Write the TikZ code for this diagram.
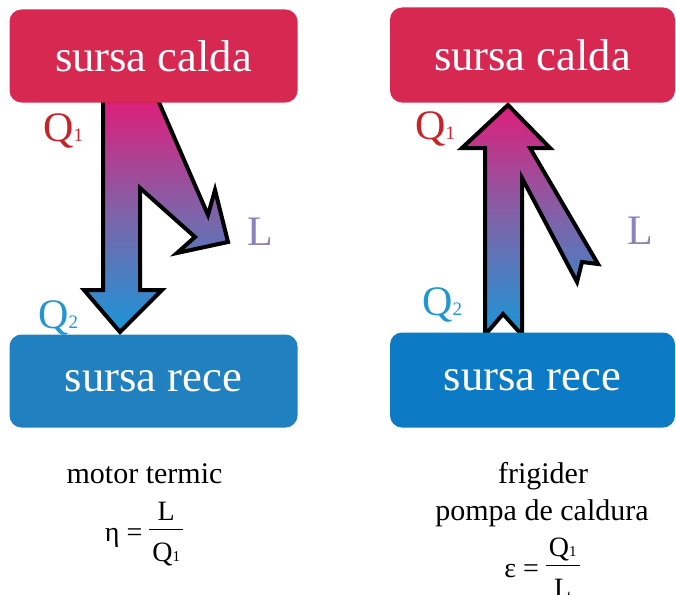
\documentclass[tikz,border=0pt]{standalone}
\usepackage{fontspec}
\setmainfont{Liberation Serif}
\usetikzlibrary{positioning,calc}
\definecolor{hotred}{RGB}{214,40,80}
\definecolor{coldblue}{RGB}{32,128,192}
\definecolor{coldbluer}{RGB}{12,122,196}
\definecolor{flowtop}{RGB}{222,30,122}
\definecolor{flowmid}{RGB}{125,100,170}
\definecolor{flowbot}{RGB}{25,150,215}
\definecolor{qred}{RGB}{200,35,40}
\definecolor{qblue}{RGB}{35,150,210}
\definecolor{lwork}{RGB}{140,130,190}
\tikzset{SOURCE/.style={rectangle, rounded corners=12pt, inner sep=0pt, text=white, font=\fontsize{44.6}{50}\selectfont, minimum width=288pt, minimum height=93pt}}
\tikzset{FLOW/.style={draw=black, line width=4pt, line join=miter, top color=flowtop, bottom color=flowbot, middle color=flowmid}}
\tikzset{LABEL/.style={anchor=base west, inner sep=0pt, font=\fontsize{42}{42}\selectfont}}
\tikzset{CAPTION/.style={anchor=base, inner sep=0pt, font=\fontsize{30}{30}\selectfont}}
\tikzset{FORMULA/.style={anchor=base, inner sep=0pt, font=\fontsize{28}{28}\selectfont}}
\newcommand{\IDX}[2]{{\fontsize{#1}{#1}\selectfont #2}}
\newcommand{\FRAC}[2]{\setlength{\arrayrulewidth}{1.2pt}\begin{tabular}{@{\hspace{3pt}}c@{\hspace{3pt}}}#1\\\hline\rule{0pt}{1.1em}#2\end{tabular}}

\begin{document}
\begin{tikzpicture}[x=1pt, y=-1pt]
    \useasboundingbox (0,0) rectangle (676,594);
    \clip (0,0) rectangle (676,594);
    \fill[white] (0,0) rectangle (676,594);

    % motor termic
    \draw[FLOW] (103,100) -- (158,100) -- (208,215) -- (215,190) -- (228,242) -- (177,253)
        -- (195,237) -- (140,188) -- (140,290) -- (162,290) -- (120,332) -- (84,290)
        -- (103,290) -- cycle;
    \node[SOURCE, fill=hotred] (n_hot_left) at (153.5,56) {sursa calda};
    \node[SOURCE, fill=coldblue] (n_cold_left) at (153.5,381) {sursa rece};

    \node[LABEL, text=qred] (n_q1_left) at (43,141) {Q\IDX{19}{1}};
    \node[LABEL, text=qblue] (n_q2_left) at (38,328) {Q\IDX{19}{2}};
    \node[LABEL, text=lwork] (n_l_left) at (247,245) {L};

    \node[CAPTION] (n_motor) at (144.5,483) {motor termic};
    \node[FORMULA] (n_eta) at (144,541.5) {η = \FRAC{L}{Q\IDX{15}{1}}};

    % frigider / pompa de caldura
    \draw[FLOW] (508,105) -- (550,148) -- (530,148) -- (598,264) -- (582,262) -- (577,282)
        -- (522,178) -- (522,335) -- (503,314) -- (485,335) -- (485,148) -- (462,148) -- cycle;
    \node[SOURCE, fill=hotred, minimum width=285pt, minimum height=95pt] (n_hot_right) at (532.5,55) {sursa calda};
    \node[SOURCE, fill=coldbluer, minimum width=285pt, minimum height=95pt] (n_cold_right) at (532.5,380) {sursa rece};

    \node[LABEL, text=qred] (n_q1_right) at (415,139) {Q\IDX{19}{1}};
    \node[LABEL, text=qblue] (n_q2_right) at (422,315) {Q\IDX{19}{2}};
    \node[LABEL, text=lwork] (n_l_right) at (627,244) {L};

    \node[CAPTION] (n_fridge) at (543,483) {frigider};
    \node[CAPTION] (n_pump) at (542,520) {pompa de caldura};
    \node[FORMULA] (n_eps) at (542,577.5) {ε = \FRAC{Q\IDX{15}{1}}{L}};
\end{tikzpicture}
\end{document}
